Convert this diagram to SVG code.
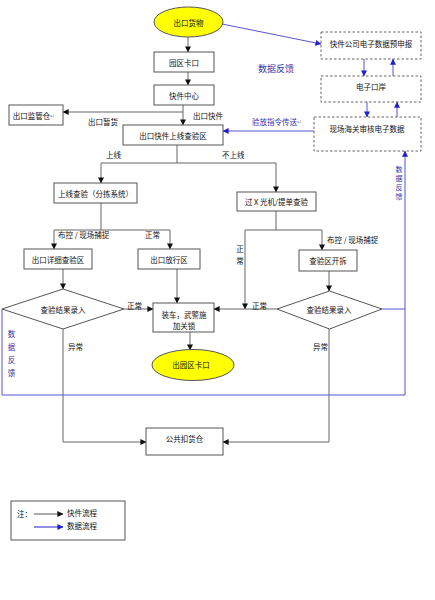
<svg xmlns="http://www.w3.org/2000/svg" width="435" height="600" viewBox="0 0 435 600">
<defs>
<marker id="ab" viewBox="0 0 8 8" refX="7.5" refY="4" markerWidth="6" markerHeight="6" markerUnits="userSpaceOnUse" orient="auto"><path d="M0,0 L8,4 L0,8 z" fill="#111"/></marker>
<marker id="au" viewBox="0 0 8 8" refX="7.5" refY="4" markerWidth="6" markerHeight="6" markerUnits="userSpaceOnUse" orient="auto"><path d="M0,0 L8,4 L0,8 z" fill="#2020d0"/></marker>
<style>
text{font-family:"Noto Sans CJK SC","Liberation Sans",sans-serif;font-size:7.5px;fill:#111}
.c{text-anchor:middle;dominant-baseline:central}
.l{dominant-baseline:central}
.bx{fill:#fff;stroke:#555;stroke-width:1}
.db{fill:#fff;stroke:#666;stroke-width:1;stroke-dasharray:2.5,2}
.el{fill:#ffff00;stroke:#555;stroke-width:1}
.k{fill:none;stroke:#666;stroke-width:1}
.ka{fill:none;stroke:#666;stroke-width:1;marker-end:url(#ab)}
.u{fill:none;stroke:#5555cc;stroke-width:1}
.ua{fill:none;stroke:#5555cc;stroke-width:1;marker-end:url(#au)}
.bt{fill:#3333aa}
.rt{fill:#999;font-size:6px}
</style>
</defs>
<rect width="435" height="600" fill="#fff"/>

<g id="connectors">
<line class="ka" x1="188" y1="37" x2="188" y2="52"/>
<line class="ka" x1="188" y1="72" x2="188" y2="85"/>
<line class="ka" x1="183" y1="105" x2="183" y2="125"/>
<polyline class="ka" points="183,112 63,112"/>
<line class="k" x1="177" y1="145" x2="177" y2="163"/>
<line class="k" x1="101" y1="163" x2="276" y2="163"/>
<line class="ka" x1="101" y1="163" x2="101" y2="183"/>
<line class="ka" x1="276" y1="163" x2="276" y2="192"/>
<line class="k" x1="101" y1="203" x2="101" y2="230"/>
<line class="k" x1="54" y1="230" x2="170" y2="230"/>
<line class="ka" x1="54" y1="230" x2="54" y2="249"/>
<line class="ka" x1="170" y1="230" x2="170" y2="249"/>
<line class="ka" x1="63" y1="269" x2="63" y2="289"/>
<line class="ka" x1="177" y1="269" x2="177" y2="303"/>
<line class="ka" x1="124" y1="309" x2="153" y2="309"/>
<line class="k" x1="276" y1="211" x2="276" y2="230"/>
<line class="k" x1="245" y1="230" x2="322" y2="230"/>
<line class="ka" x1="245" y1="230" x2="245" y2="309"/>
<line class="ka" x1="322" y1="230" x2="322" y2="250"/>
<line class="ka" x1="329" y1="271" x2="329" y2="291"/>
<line class="ka" x1="277" y1="309" x2="214" y2="309"/>
<polyline class="ka" points="63,329 63,442 146,442"/>
<polyline class="ka" points="329,329 329,442 223,442"/>
<line class="ka" x1="190" y1="332" x2="190" y2="350"/>

<line class="ua" x1="222" y1="24" x2="321" y2="44"/>
<line class="ua" x1="364" y1="59" x2="364" y2="76"/>
<line class="ua" x1="393" y1="76" x2="393" y2="59"/>
<line class="ua" x1="367" y1="102" x2="367" y2="117"/>
<line class="ua" x1="397" y1="117" x2="397" y2="102"/>
<line class="ua" x1="314" y1="131" x2="223" y2="131"/>
<line class="u" x1="382" y1="309" x2="405" y2="309"/>
<polyline class="ua" points="2,309 2,395 405,395 405,151"/>
</g>

<g id="n-chukouhuowu"><ellipse class="el" cx="188.5" cy="22" rx="34.5" ry="15"/><text class="c" x="188.5" y="22">出口货物</text></g>
<g id="n-yuanqukakou"><rect class="bx" x="154" y="52" width="60" height="20"/><text class="c" x="184" y="62">园区卡口</text></g>
<g id="n-kuaijianzhongxin"><rect class="bx" x="154" y="85" width="60" height="20"/><text class="c" x="184" y="95">快件中心</text></g>
<g id="n-jianguancang"><rect class="bx" x="9" y="105" width="54" height="20"/><text class="c" x="34" y="115">出口监管仓<tspan class="rt">↵</tspan></text></g>
<g id="n-shangxianchayanqu"><rect class="bx" x="123" y="125" width="100" height="20"/><text class="c" x="173" y="135">出口快件上线查验区</text></g>
<g id="n-shangxianchayan"><rect class="bx" x="54" y="183" width="83" height="20"/><text class="c" x="95.5" y="193">上线查验（分拣系统）</text></g>
<g id="n-xguangji"><rect class="bx" x="237" y="192" width="79" height="19"/><text class="c" x="276.5" y="201.5">过 X 光机/提单查验</text></g>
<g id="n-xiangxichayan"><rect class="bx" x="24" y="249" width="68" height="20"/><text class="c" x="58" y="259">出口详细查验区</text></g>
<g id="n-fangxingqu"><rect class="bx" x="138" y="249" width="62" height="20"/><text class="c" x="169" y="259">出口放行区</text></g>
<g id="n-kaichai"><rect class="bx" x="299" y="250" width="58" height="21"/><text class="c" x="328" y="260.5">查验区开拆</text></g>
<g id="n-jieguo1"><polygon class="bx" points="2,309 63,289 124,309 63,329"/><text class="c" x="63" y="309">查验结果录入</text></g>
<g id="n-jieguo2"><polygon class="bx" points="277,309 329.5,291 382,309 329.5,329"/><text class="c" x="329" y="309">查验结果录入</text></g>
<g id="n-zhuangche"><rect class="bx" x="153" y="303" width="61" height="29"/><text class="c" x="184" y="314">装车，武警施</text><text class="c" x="184" y="325">加关锁</text></g>
<g id="n-chuyuanqu"><ellipse class="el" cx="193" cy="365" rx="41" ry="15.5"/><text class="c" x="191" y="364">出园区卡口</text></g>
<g id="n-kouhuocang"><rect class="bx" x="146" y="428" width="77" height="27"/><text class="c" x="184.5" y="438">公共扣货仓</text></g>
<g id="n-yushenbao"><rect class="db" x="321" y="32" width="100" height="27"/><text class="c" x="371" y="43">快件公司电子数据预申报</text></g>
<g id="n-dianzikouan"><rect class="db" x="321" y="76" width="100" height="26"/><text class="c" x="371" y="86">电子口岸</text></g>
<g id="n-shenhe"><rect class="db" x="314" y="117" width="107" height="34"/><text class="c" x="367" y="128">现场海关审核电子数据</text></g>

<g id="labels">
<text class="l" x="88" y="121">出口暂货</text>
<text class="l" x="193" y="115">出口快件</text>
<text class="l" x="106" y="154">上线</text>
<text class="l" x="222" y="154">不上线</text>
<text class="l" x="58" y="234">布控 / 现场捕捉</text>
<text class="l" x="145" y="234">正常</text>
<text class="c" x="240" y="248">正</text>
<text class="c" x="240" y="260">常</text>
<text class="l" x="327" y="239">布控 / 现场捕捉</text>
<text class="l" x="127" y="305">正常</text>
<text class="l" x="252" y="305">正常</text>
<text class="l" x="68" y="346">异常</text>
<text class="l" x="313" y="346">异常</text>
<text class="l bt" x="258" y="68" style="font-size:9px">数据反馈</text>
<text class="l bt" x="252" y="121">验放指令传送<tspan class="rt">↵</tspan></text>
<text class="c bt" x="11.5" y="333">数</text>
<text class="c bt" x="11.5" y="346">据</text>
<text class="c bt" x="11.5" y="359">反</text>
<text class="c bt" x="11.5" y="372">馈</text>
<text class="c bt" x="399" y="169" style="font-size:7px">数</text>
<text class="c bt" x="399" y="178" style="font-size:7px">据</text>
<text class="c bt" x="399" y="187" style="font-size:7px">反</text>
<text class="c bt" x="399" y="196" style="font-size:7px">馈</text>
</g>

<g id="legend">
<rect class="bx" x="11" y="501" width="114" height="39"/>
<text class="l" x="17" y="513">注：</text>
<line x1="34" y1="514" x2="63" y2="514" stroke="#555" stroke-width="1" marker-end="url(#ab)"/>
<text class="l" x="67" y="512">快件流程</text>
<line x1="34" y1="527" x2="63" y2="527" stroke="#2020d0" stroke-width="1" marker-end="url(#au)"/>
<text class="l" x="67" y="525">数据流程</text>
</g>
</svg>
